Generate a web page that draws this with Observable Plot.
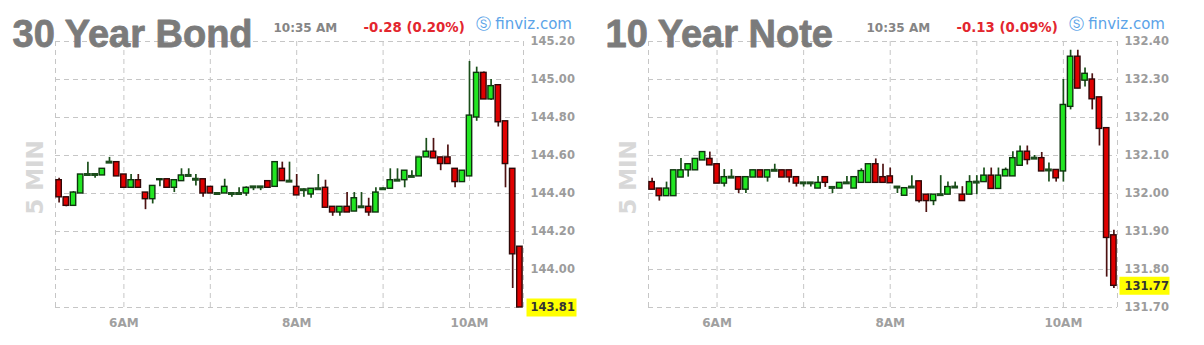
<!DOCTYPE html>
<html><head><meta charset="utf-8">
<script src="https://cdn.jsdelivr.net/npm/d3@7"></script>
<script src="https://cdn.jsdelivr.net/npm/@observablehq/plot@0.6"></script>
<style>
body{margin:0;background:#fff;}
#wrap{display:flex;width:1204px;height:345px;overflow:hidden;}
#wrap svg{overflow:visible;}
</style></head><body><div id="wrap"></div>
<script>
const barTimes = ["5:15","5:20","5:25","5:30","5:35","5:40","5:45","5:50","5:55",
"6:00","6:05","6:10","6:15","6:20","6:25","6:30","6:35","6:40","6:45","6:50","6:55",
"7:00","7:05","7:10","7:15","7:20","7:25","7:30","7:35","7:40","7:45","7:50","7:55",
"8:00","8:05","8:10","8:15","8:20","8:25","8:30","8:35","8:40","8:45","8:50","8:55",
"9:00","9:05","9:10","9:15","9:20","9:25","9:30","9:35","9:40","9:45","9:50","9:55",
"10:00","10:05","10:10","10:15","10:20","10:25","10:30","10:35"];
const gridTimes = ["6:00","7:00","8:00","9:00","10:00"];
const xLabelTimes = ["6:00","8:00","10:00"];
const xLabelText = ["6AM","8AM","10AM"];

const bondOpen = [144.47,144.38,144.335,144.40,144.50,144.50,144.495,144.565,144.565,144.50,
144.43,144.47,144.405,144.37,144.47,144.475,144.43,144.465,144.495,144.475,
144.475,144.435,144.40,144.40,144.40,144.40,144.40,144.435,144.435,144.465,
144.435,144.53,144.465,144.435,144.42,144.395,144.425,144.43,144.33,144.30,
144.33,144.305,144.33,144.33,144.30,144.425,144.425,144.47,144.47,144.49,
144.49,144.59,144.62,144.59,144.59,144.53,144.46,144.49,144.80,145.035,
144.895,144.97,144.78,144.53,144.12];
const bondHigh = [144.48,144.38,144.41,144.50,144.565,144.50,144.53,144.59,144.565,144.50,
144.50,144.50,144.405,144.44,144.475,144.475,144.47,144.53,144.53,144.50,
144.475,144.435,144.40,144.475,144.40,144.43,144.435,144.435,144.435,144.465,
144.565,144.565,144.565,144.50,144.425,144.425,144.50,144.47,144.33,144.33,
144.405,144.405,144.405,144.375,144.43,144.43,144.53,144.53,144.52,144.52,
144.59,144.69,144.69,144.59,144.655,144.53,144.52,145.095,145.065,145.04,
145.00,144.97,144.78,144.53,144.12];
const bondLow = [144.35,144.33,144.335,144.40,144.495,144.48,144.495,144.56,144.49,144.43,
144.43,144.43,144.315,144.345,144.435,144.43,144.405,144.465,144.495,144.44,
144.38,144.40,144.40,144.40,144.38,144.40,144.385,144.415,144.415,144.43,
144.435,144.465,144.465,144.39,144.38,144.375,144.425,144.325,144.28,144.28,
144.30,144.305,144.33,144.28,144.30,144.42,144.425,144.47,144.43,144.49,
144.49,144.59,144.585,144.52,144.555,144.43,144.46,144.49,144.78,144.895,
144.89,144.75,144.43,143.90,143.80];
const bondClose = [144.38,144.335,144.405,144.50,144.50,144.50,144.53,144.565,144.49,144.43,
144.47,144.43,144.37,144.44,144.475,144.43,144.47,144.495,144.495,144.475,
144.40,144.40,144.40,144.435,144.40,144.40,144.43,144.435,144.435,144.43,
144.565,144.465,144.465,144.39,144.42,144.425,144.425,144.325,144.30,144.33,
144.30,144.375,144.33,144.30,144.405,144.425,144.47,144.47,144.52,144.49,
144.59,144.62,144.585,144.555,144.555,144.46,144.52,144.81,145.035,144.895,
144.965,144.775,144.555,144.08,143.80];

const noteOpen = [132.03,132.013,131.993,131.993,132.042,132.061,132.061,132.087,132.091,132.077,
132.026,132.043,132.043,132.01,132.042,132.061,132.042,132.061,132.061,132.061,
132.043,132.028,132.028,132.013,132.043,132.016,132.013,132.028,132.013,132.028,
132.028,132.077,132.043,132.045,132.017,131.994,132.017,132.032,131.997,131.98,
131.997,131.997,132.017,131.997,131.997,132.03,132.03,132.047,132.012,132.045,
132.045,132.073,132.11,132.093,132.093,132.062,132.062,132.058,132.228,132.36,
132.297,132.30,132.253,132.172,131.89];
const noteHigh = [132.04,132.013,132.03,132.061,132.092,132.077,132.091,132.109,132.109,132.077,
132.063,132.063,132.043,132.043,132.061,132.061,132.061,132.077,132.061,132.061,
132.043,132.028,132.028,132.045,132.043,132.016,132.028,132.045,132.043,132.065,
132.077,132.091,132.077,132.067,132.017,132.014,132.047,132.032,131.997,131.997,
132.047,132.03,132.03,132.018,132.047,132.047,132.067,132.067,132.067,132.067,
132.11,132.125,132.125,132.10,132.108,132.08,132.062,132.30,132.377,132.377,
132.33,132.315,132.253,132.172,131.903];
const noteLow = [132.01,131.98,131.993,131.993,132.042,132.043,132.061,132.087,132.074,132.026,
132.017,132.043,132.00,132.00,132.042,132.042,132.03,132.061,132.042,132.028,
132.017,132.017,132.017,132.013,132.016,132.00,132.013,132.028,132.013,132.028,
132.028,132.028,132.028,132.027,132.00,131.994,132.017,131.975,131.95,131.968,
131.997,131.997,132.017,131.98,131.997,131.997,132.03,132.012,132.012,132.045,
132.045,132.073,132.075,132.09,132.058,132.03,132.03,132.03,132.22,132.276,
132.28,132.22,132.125,131.78,131.75];
const noteClose = [132.01,131.993,132.013,132.061,132.061,132.077,132.091,132.109,132.074,132.026,
132.043,132.043,132.01,132.043,132.061,132.042,132.061,132.061,132.042,132.042,
132.026,132.028,132.028,132.028,132.028,132.016,132.028,132.028,132.043,132.059,
132.077,132.028,132.028,132.027,132.017,132.014,132.017,131.98,131.98,131.997,
131.997,132.017,132.017,131.98,132.03,132.03,132.047,132.012,132.047,132.062,
132.093,132.11,132.088,132.093,132.058,132.062,132.04,132.233,132.36,132.276,
132.315,132.248,132.17,131.883,131.757];

const bondGrid = [145.20,145.00,144.80,144.60,144.40,144.20,144.00,143.80];
const bondTickValues = [145.20,145.00,144.80,144.60,144.40,144.20,144.00];
const bondTickLabels = ["145.20","145.00","144.80","144.60","144.40","144.20","144.00"];
const noteGrid = [132.40,132.30,132.20,132.10,132.00,131.90,131.80,131.70];
const noteTickValues = [132.40,132.30,132.20,132.10,132.00,131.90,131.80,131.70];
const noteTickLabels = ["132.40","132.30","132.20","132.10","132.00","131.90","131.80","131.70"];

const titles = ["30 Year Bond","10 Year Note"];
const stamp = "10:35 AM";
const changes = ["-0.28 (0.20%)","-0.13 (0.09%)"];
const lastLabels = ["143.81","131.77"];
const brand = "\u24C8 finviz.com";

function toMin(s){const [h,m]=s.split(":").map(Number);return h*60+m;}

function chart({title, change, O, H, L, C, grid, tickValues, tickLabels, lastLabel, width, marginRight, boxDx}) {
  const data = barTimes.map((t,i)=>({t:toMin(t), o:O[i], h:H[i], l:L[i], c:C[i]}));
  const up = data.filter(d => d.c > d.o), down = data.filter(d => d.c < d.o), flat = data.filter(d => d.c === d.o);
  const half = 2.5;
  const x0 = data[0].t - half, x1 = data[data.length-1].t + half;
  const g = {stroke:"#c6c6c6", strokeDasharray:"5,4", strokeWidth:1};
  const last = data[data.length-1];
  const box = {draw(ctx){ctx.rect(-25,-9,50,18);}};
  const sans = "DejaVu Sans, Verdana, sans-serif";
  return Plot.plot({
    width, height:345, marginLeft:55, marginRight, marginTop:41, marginBottom:38,
    x:{domain:[x0,x1], axis:null},
    y:{domain:[grid[grid.length-1], grid[0]], axis:null},
    style:{background:"transparent", overflow:"visible"},
    marks:[
      Plot.ruleY(grid, {y:d=>d, ...g}),
      Plot.ruleX([x0, ...gridTimes.map(toMin), x1], {x:d=>d, ...g}),
      Plot.text(["5 MIN"], {text:d=>d, frameAnchor:"left", dx:-20, dy:3, rotate:-90, textAnchor:"middle", lineAnchor:"middle", fontSize:23, fontWeight:"bold", fontFamily:sans, fill:"#d8d8d8"}),
      Plot.ruleX(up, {x:"t", y1:"l", y2:"h", stroke:"#1a4f1a", strokeWidth:1.7}),
      Plot.ruleX(down, {x:"t", y1:"l", y2:"h", stroke:"#4e1212", strokeWidth:1.7}),
      Plot.ruleX(flat, {x:"t", y1:"l", y2:"h", stroke:"#1a4f1a", strokeWidth:1.7}),
      Plot.rect(up, {x1:d=>d.t-half, x2:d=>d.t+half, y1:"o", y2:"c", insetLeft:0.9, insetRight:0.9, fill:"#22e622", stroke:"#0e330e", strokeWidth:1.4}),
      Plot.rect(down, {x1:d=>d.t-half, x2:d=>d.t+half, y1:"o", y2:"c", insetLeft:0.9, insetRight:0.9, fill:"#e00000", stroke:"#300808", strokeWidth:1.4}),
      Plot.ruleY(flat, {y:"c", x1:d=>d.t-half, x2:d=>d.t+half, insetLeft:0.2, insetRight:0.2, stroke:"#1b4d1b", strokeWidth:3}),
      Plot.text(tickValues, {y:d=>d, text:(d,i)=>tickLabels[i], frameAnchor:"right", dx:7, textAnchor:"start", lineAnchor:"middle", fontSize:11.5, fontWeight:"bold", fontFamily:sans, fill:"#9c9c9c"}),
      Plot.text(xLabelTimes, {x:d=>toMin(d), text:(d,i)=>xLabelText[i], frameAnchor:"bottom", dy:16, lineAnchor:"middle", fontSize:12, fontWeight:"bold", fontFamily:sans, fill:"#a0a0a0"}),
      Plot.dot([last], {y:"c", frameAnchor:"right", dx:boxDx, symbol:box, fill:"#ffff00", stroke:"none"}),
      Plot.text([last], {y:"c", text:()=>lastLabel, frameAnchor:"right", dx:7, textAnchor:"start", lineAnchor:"middle", fontSize:11.5, fontWeight:"bold", fontFamily:sans, fill:"#333"}),
      Plot.text([title], {text:d=>d, frameAnchor:"top-left", dx:-43, dy:5, textAnchor:"start", lineAnchor:"bottom", fontSize:38, fontWeight:"bold", fontFamily:"Liberation Sans, Arial, sans-serif", fill:"#7b7b7b", stroke:"#7b7b7b", strokeWidth:0.8}),
      Plot.text([stamp], {text:d=>d, frameAnchor:"top-left", dx:218, dy:-9.5, textAnchor:"start", lineAnchor:"bottom", fontSize:12, fontWeight:"bold", fontFamily:sans, fill:"#858585"}),
      Plot.text([change], {text:d=>d, frameAnchor:"top-left", dx:308, dy:-9.5, textAnchor:"start", lineAnchor:"bottom", fontSize:13.3, fontWeight:"bold", fontFamily:sans, fill:"#e3262e"}),
      Plot.text([brand], {text:d=>d, frameAnchor:"top-left", dx:420, dy:-12.5, textAnchor:"start", lineAnchor:"bottom", fontSize:15, fontFamily:sans, fill:"#5ba3e8"})
    ]
  });
}

const wrap = document.getElementById("wrap");
wrap.append(chart({title:titles[0], change:changes[0], O:bondOpen, H:bondHigh, L:bondLow, C:bondClose, grid:bondGrid, tickValues:bondTickValues, tickLabels:bondTickLabels, lastLabel:lastLabels[0], width:593, marginRight:70, boxDx:28}));
wrap.append(chart({title:titles[1], change:changes[1], O:noteOpen, H:noteHigh, L:noteLow, C:noteClose, grid:noteGrid, tickValues:noteTickValues, tickLabels:noteTickLabels, lastLabel:lastLabels[1], width:611, marginRight:87, boxDx:27}));
</script></body></html>
